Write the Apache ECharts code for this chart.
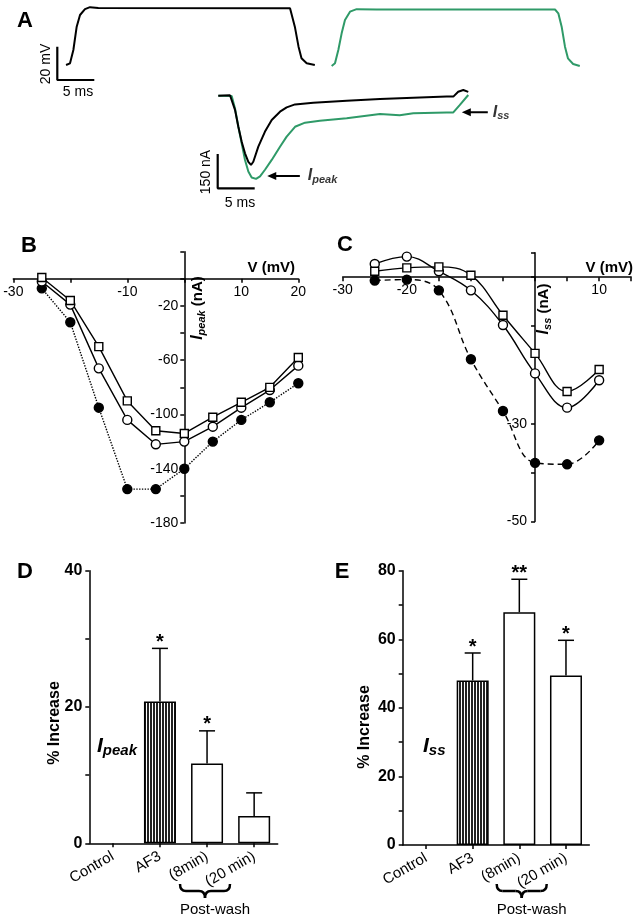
<!DOCTYPE html>
<html><head><meta charset="utf-8">
<script src="https://cdn.jsdelivr.net/npm/echarts@6/dist/echarts.min.js"></script>
<style>html,body{margin:0;padding:0;background:#fff}#c{width:642px;height:923px}</style>
</head><body><div id="c"></div>
<script>
// ---------- Panel A : traces (time in ms, voltage in mV, current in nA) ----------
const vBlackT  = [1.18,1.72,2.17,2.62,3.07,3.74,4.42,5.54,31.45,31.7,32.1,32.6,33.0,33.7,34.8];
const vBlackMV = [-80,-79,-71,-57,-50,-46.5,-45.3,-45.8,-46,-47,-57,-69,-76,-79,-80];
const vGreenT  = [1.17,1.62,2.07,2.52,2.97,3.65,4.55,7.25,31.35,31.8,32.25,32.7,33.1,33.8,34.7];
const vGreenMV = [-80.6,-79,-71,-61,-53,-48,-46.5,-46.7,-46.7,-49,-57,-69,-76,-79.4,-80.6];
const iBlackT  = [0.08,1.66,1.89,2.34,2.79,3.24,3.69,4.14,4.50,4.81,5.49,6.39,7.30,8.42,9.32,10.45,12.92,17.43,21.93,26.43,30.95,31.84,32.5,33.19,33.86];
const iBlack   = [0,2,-4,-62,-136,-201,-252,-289,-303,-289,-223,-157,-106,-70,-51,-38,-31,-22,-14,-9,-4,-4,17,25,17];
const iGreenT  = [0.08,1.89,2.34,2.79,3.24,3.69,4.14,4.59,5.18,5.72,6.39,7.30,8.42,9.32,10.45,11.8,13.8,17.43,21.93,24.6,26.43,30.95,31.84,32.7,33.86];
const iGreen   = [0,-1,-56,-136,-208,-281,-332,-358,-364,-353,-324,-281,-223,-179,-136,-118,-110,-99,-80,-86,-77,-73,-73,-41,3];
const vScaleBar = [[0,-69],[0,-89],[5,-89]];      // 20 mV / 5 ms
const iScaleBar = [[0,-255],[0,-405],[5,-405]];   // 150 nA / 5 ms
const peakArrow = [[11.1,-351],[7.3,-351]];
const ssArrow   = [[36.5,-72.6],[33.6,-72.6]];

// ---------- Panel B : I_peak vs V ----------
const vB       = [-25,-20,-15,-10,-5,0,5,10,15,20];
const bSquare  = [1,-16,-50,-90,-112,-114,-102,-91,-80,-58];
const bCircle  = [-2,-19,-66,-104,-122,-120,-109,-95,-82,-64];
const bFilled  = [-7,-32,-95,-155,-155,-140,-120,-104,-91,-77];
const bXLabels = [-30,-10,10,20];
const bYLabels = [-20,-60,-100,-140,-180];

// ---------- Panel C : I_ss vs V ----------
const vC       = [-25,-20,-15,-10,-5,0,5,10];
const cCircle  = [2.7,4.2,1.2,-2.7,-9.8,-19.7,-26.7,-21.1];
const cSquare  = [1.2,1.9,2.1,0.4,-7.8,-15.6,-23.4,-18.9];
const cFilled  = [-0.7,-0.5,-2.7,-16.8,-27.4,-38,-38.3,-33.4];
const cXLabels = [-30,-20,10];
const cYLabels = [-30,-50];

// ---------- Panels D / E : % increase ----------
const cats  = ['Control','AF3','(8min)','(20 min)'];
const dMean = [0,20.8,11.7,4.0];
const dErr  = [0,7.8,4.8,3.4];
const dSig  = ['','*','*',''];
const eMean = [0,48.0,67.9,49.4];
const eErr  = [0,8.0,9.6,10.3];
const eSig  = ['','*','**','*'];

const FONT = '"Liberation Sans", Arial, Helvetica, sans-serif';
const GREEN = '#2f9a68';
const zip = (a,b) => a.map((v,i)=>[v,b[i]]);

// stripe pattern for AF3 bars
const pc = document.createElement('canvas'); pc.width = 3; pc.height = 8;
const pctx = pc.getContext('2d');
pctx.fillStyle = '#fff'; pctx.fillRect(0,0,3,8);
pctx.fillStyle = '#222'; pctx.fillRect(0,0,2,8);
const stripe = {image: pc, repeat: 'repeat'};

const axisLineStyle = {color:'#000', width:1.5};
function hiddenX(g,min,max){return {gridIndex:g,type:'value',min,max,show:false};}
function hiddenY(g,min,max){return {gridIndex:g,type:'value',min,max,show:false};}

function errRender(sigs){
  return function(params, api){
    const i = api.value(0), m = api.value(1), e = api.value(2);
    if (!e) return null;
    const b = api.coord([i,m]), t = api.coord([i,m+e]);
    const st = {stroke:'#000', lineWidth:1.5};
    return {type:'group', children:[
      {type:'line', shape:{x1:b[0],y1:b[1],x2:t[0],y2:t[1]}, style:st},
      {type:'line', shape:{x1:t[0]-8,y1:t[1],x2:t[0]+8,y2:t[1]}, style:st},
      {type:'text', x:t[0], y:t[1]-6, style:{text:sigs[i], fill:'#000', font:'bold 20px '+FONT, textAlign:'center', textVerticalAlign:'middle'}}
    ]};
  };
}

// I-V axes: crossing at zero, placed through axis offset computed from the scale
function ivX(g,min,max,interval,labels,ymin,ymax,h){
  return {gridIndex:g,type:'value',min,max,interval,position:'bottom',
    offset: -(0-ymin)/(ymax-ymin)*h,
    axisLine:{show:true,onZero:false,lineStyle:axisLineStyle},
    axisTick:{show:true,length:4,lineStyle:axisLineStyle},
    axisLabel:{color:'#000',fontSize:14,fontFamily:FONT,margin:6,
      formatter:v=>labels.includes(v)?String(v):''},
    splitLine:{show:false}};
}
function ivY(g,min,max,interval,labels,xmin,xmax,w,margin){
  return {gridIndex:g,type:'value',min,max,interval,position:'left',
    offset: -(0-xmin)/(xmax-xmin)*w,
    axisLine:{show:true,onZero:false,lineStyle:axisLineStyle},
    axisTick:{show:true,length:4,lineStyle:axisLineStyle},
    axisLabel:{color:'#000',fontSize:14,fontFamily:FONT,margin,
      formatter:v=>labels.includes(v)?String(v):''},
    splitLine:{show:false}};
}
function barX(g){
  return {gridIndex:g,type:'category',data:cats,
    axisLine:{show:true,lineStyle:axisLineStyle},
    axisTick:{show:true,alignWithLabel:true,length:4,lineStyle:axisLineStyle},
    axisLabel:{color:'#000',fontSize:15,fontFamily:FONT,rotate:30,margin:12,interval:0}};
}
function barY(g,max){
  return {gridIndex:g,type:'value',min:0,max,interval:10,
    axisLine:{show:true,lineStyle:axisLineStyle},
    axisTick:{show:true,length:4,lineStyle:axisLineStyle},
    axisLabel:{color:'#000',fontSize:16,fontWeight:'bold',fontFamily:FONT,margin:7,
      formatter:v=>v%20===0?String(v):''},
    splitLine:{show:false}};
}
function barData(means){
  return means.map((v,i)=>({value:v,itemStyle:{color: i===1?stripe:'#fff', borderColor:'#000', borderWidth: v?1.5:0}}));
}

const markerLine = (g, data, symbol, fill, lineType, smooth) => ({
  type:'line', xAxisIndex:g, yAxisIndex:g, data, symbol, symbolSize: symbol==='rect'?8:9, smooth,
  lineStyle:{color:'#000',width:1.4,type:lineType},
  itemStyle:{color:fill,borderColor:'#000',borderWidth:1.4}, z:3
});
const trace = (g, data, color, w) => ({type:'line',xAxisIndex:g,yAxisIndex:g,data,showSymbol:false,symbol:'none',
  lineStyle:{color,width:w||2},smooth:false,z:2});
const arrow = (g, pts) => ({type:'line',xAxisIndex:g,yAxisIndex:g,lineStyle:{color:'#000',width:2},symbol:'none',
  data:[pts[0],{value:pts[1],symbol:'triangle',symbolSize:[8,9],symbolRotate:90,itemStyle:{color:'#000'}}]});

const rich = {
  I:{fontStyle:'italic',fontWeight:'bold',fontSize:16,fontFamily:FONT,color:'#000'},
  s:{fontStyle:'italic',fontWeight:'bold',fontSize:11,fontFamily:FONT,color:'#000',padding:[8,0,0,0]}
};
const arrowLabel = (g, pt, sub, dist) => ({type:'scatter',xAxisIndex:g,yAxisIndex:g,symbolSize:0,
  data:[pt], label:{show:true,position:'right',distance:dist,formatter:'{I|I}{s|'+sub+'}',rich}});

const gridBase = {containLabel:false, outerBoundsMode:'none'};
const G = o => Object.assign({}, gridBase, o);

const option = {
  animation:false,
  backgroundColor:'#fff',
  grid:[
    G({left:57.3,top:0,width:296,height:90}),
    G({left:323,top:0,width:296,height:90}),
    G({left:217.7,top:79.7,width:333,height:130.3}),
    G({left:13.3,top:251.7,width:285,height:271.3}),
    G({left:342.7,top:252.7,width:288.5,height:268.8}),
    G({left:89.3,top:570.7,width:188.4,height:272.6}),
    G({left:402.7,top:570.7,width:186.6,height:274.3})
  ],
  xAxis:[hiddenX(0,0,40),hiddenX(1,0,40),hiddenX(2,0,45),
    ivX(3,-30,20,10,bXLabels,-180,20,271.3), ivX(4,-30,15,5,cXLabels,-50,5,268.8), barX(5), barX(6)],
  yAxis:[hiddenY(0,-95,-41),hiddenY(1,-95,-41),hiddenY(2,-500,70),
    ivY(3,-180,20,20,bYLabels,-30,20,285,6), ivY(4,-50,5,10,cYLabels,-30,15,288.5,8), barY(5,40), barY(6,80)],
  series:[
    trace(0, zip(vBlackT,vBlackMV), '#000'),
    trace(0, vScaleBar, '#000', 2.2),
    trace(1, zip(vGreenT,vGreenMV), GREEN),
    trace(2, zip(iGreenT,iGreen), GREEN),
    trace(2, zip(iBlackT,iBlack), '#000'),
    trace(2, iScaleBar, '#000', 2.2),
    arrow(2, peakArrow), arrow(2, ssArrow),
    arrowLabel(2, peakArrow[0], 'peak', 8),
    arrowLabel(2, ssArrow[0], 'ss', 5),
    markerLine(3, zip(vB,bFilled), 'circle', '#000', 'dotted', false),
    markerLine(3, zip(vB,bCircle), 'circle', '#fff', 'solid', false),
    markerLine(3, zip(vB,bSquare), 'rect', '#fff', 'solid', false),
    markerLine(4, zip(vC,cFilled), 'circle', '#000', [6,4], 0.4),
    markerLine(4, zip(vC,cCircle), 'circle', '#fff', 'solid', 0.4),
    markerLine(4, zip(vC,cSquare), 'rect', '#fff', 'solid', 0.4),
    {type:'bar',xAxisIndex:5,yAxisIndex:5,data:barData(dMean),barWidth:32},
    {type:'custom',xAxisIndex:5,yAxisIndex:5,renderItem:errRender(dSig),
      data:dMean.map((m,i)=>[i,m,dErr[i]]),z:5},
    {type:'bar',xAxisIndex:6,yAxisIndex:6,data:barData(eMean),barWidth:32},
    {type:'custom',xAxisIndex:6,yAxisIndex:6,renderItem:errRender(eSig),
      data:eMean.map((m,i)=>[i,m,eErr[i]]),z:5}
  ]
};

function txt(x,y,text,font,opts){
  return Object.assign({type:'text',x,y,style:Object.assign({text,font,fill:'#000',textAlign:'center',textVerticalAlign:'middle'},opts&&opts.style||{})},opts&&opts.el||{});
}
function brace(x0,x1,y0,h){
  const xm=(x0+x1)/2, r=6, ym=y0+h/2;
  const st={stroke:'#000',lineWidth:2.5,fill:null};
  return {type:'group',children:[
    {type:'bezierCurve',shape:{x1:x0,y1:y0,cpx1:x0,cpy1:ym,x2:x0+r,y2:ym},style:st},
    {type:'line',shape:{x1:x0+r,y1:ym,x2:xm-r,y2:ym},style:st},
    {type:'bezierCurve',shape:{x1:xm-r,y1:ym,cpx1:xm,cpy1:ym,x2:xm,y2:y0+h},style:st},
    {type:'bezierCurve',shape:{x1:xm,y1:y0+h,cpx1:xm,cpy1:ym,x2:xm+r,y2:ym},style:st},
    {type:'line',shape:{x1:xm+r,y1:ym,x2:x1-r,y2:ym},style:st},
    {type:'bezierCurve',shape:{x1:x1-r,y1:ym,cpx1:x1,cpy1:ym,x2:x1,y2:y0},style:st}
  ]};
}
const richAx = {
  I:{fontStyle:'italic',fontWeight:'bold',fontSize:16,fontFamily:FONT,fill:'#000'},
  s:{fontStyle:'italic',fontWeight:'bold',fontSize:11,fontFamily:FONT,fill:'#000',padding:[7,0,0,0]},
  n:{fontWeight:'bold',fontSize:15,fontFamily:FONT,fill:'#000'}
};
const richBig = {
  I:{fontStyle:'italic',fontWeight:'bold',fontSize:21,fontFamily:FONT,fill:'#000'},
  s:{fontStyle:'italic',fontWeight:'bold',fontSize:15,fontFamily:FONT,fill:'#000',padding:[9,0,0,0]}
};
const L = 'bold 22px '+FONT;
option.graphic = [
  txt(25,21,'A',L), txt(29,246,'B',L), txt(345,245,'C',L), txt(25,572,'D',L), txt(342,572,'E',L),
  txt(46,64,'20 mV','14px '+FONT,{el:{rotation:Math.PI/2}}),
  txt(78,92,'5 ms','14px '+FONT),
  txt(206,172,'150 nA','14px '+FONT,{el:{rotation:Math.PI/2}}),
  txt(240,203,'5 ms','14px '+FONT),
  txt(295,268,'V (mV)','bold 15px '+FONT,{style:{textAlign:'right'}}),
  txt(633,268,'V (mV)','bold 15px '+FONT,{style:{textAlign:'right'}}),
  {type:'text',x:198,y:308,rotation:Math.PI/2,style:{text:'{I|I}{s|peak}{n| (nA)}',rich:richAx,textAlign:'center',textVerticalAlign:'middle'}},
  {type:'text',x:544,y:309,rotation:Math.PI/2,style:{text:'{I|I}{s|ss}{n| (nA)}',rich:richAx,textAlign:'center',textVerticalAlign:'middle'}},
  txt(55,723,'% Increase','bold 16px '+FONT,{el:{rotation:Math.PI/2}}),
  txt(365,727,'% Increase','bold 16px '+FONT,{el:{rotation:Math.PI/2}}),
  {type:'text',x:97,y:746,style:{text:'{I|I}{s|peak}',rich:richBig,textAlign:'left',textVerticalAlign:'middle'}},
  {type:'text',x:423,y:746,style:{text:'{I|I}{s|ss}',rich:richBig,textAlign:'left',textVerticalAlign:'middle'}},
  brace(180,230,884,14), brace(496.7,546.7,884,14),
  txt(215,910,'Post-wash','15px '+FONT), txt(531.7,910,'Post-wash','15px '+FONT)
];

const chart = echarts.init(document.getElementById('c'),null,{renderer:'canvas'});
chart.setOption(option);
</script></body></html>
